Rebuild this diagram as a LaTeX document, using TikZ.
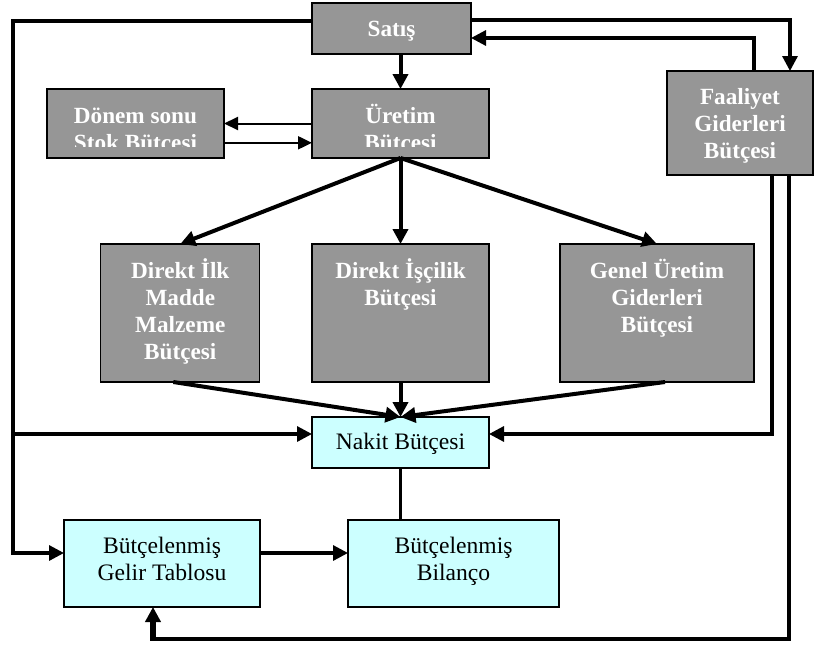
\documentclass[tikz,border=0pt]{standalone}
\usepackage{fontspec}
\setmainfont{Liberation Serif}
\usetikzlibrary{arrows.meta}

\definecolor{boxgray}{RGB}{150,150,150}
\definecolor{boxcyan}{RGB}{204,255,255}

% fixes the height of the first text line so the first baseline sits 22pt below a label's top
\newcommand\firststrut{\rule{0pt}{22pt}}

\tikzset{
  box/.style={draw=black, line width=1.3pt, inner sep=0pt, outer sep=0pt},
  graybox/.style={box, fill=boxgray},
  cyanbox/.style={box, fill=boxcyan},
  labeltext/.style={anchor=north, inner sep=0pt, outer sep=0pt, align=center},
  boldtext/.style={labeltext, text=white, font=\fontsize{23.2}{27}\selectfont\bfseries},
  plaintext/.style={labeltext, text=black, font=\fontsize{23.6}{27}\selectfont},
  bigtip/.style={-{Triangle[length=15pt,width=15pt]}},
  smalltip/.style={-{Triangle[length=14pt,width=13pt]}},
  thinline/.style={line width=2pt},
  midline/.style={line width=3.2pt},
  thickline/.style={line width=4pt},
}

\begin{document}
\begin{tikzpicture}[x=1pt, y=-1pt, line join=miter]
\useasboundingbox (0,0) rectangle (815,646);

% ---- boxes ----
\node[graybox, minimum width=159pt, minimum height=51pt]  (satis)    at (391.5,28.5) {};
\node[graybox, minimum width=177pt, minimum height=69pt]  (uretim)   at (400.5,123.5) {};
\node[graybox, minimum width=177pt, minimum height=69pt]  (donem)    at (135.5,123.5) {};
\node[graybox, minimum width=146pt, minimum height=104pt] (faaliyet) at (740,123) {};
\node[graybox, minimum width=159pt, minimum height=138pt] (dilk)     at (180.3,313) {};
\node[graybox, minimum width=177pt, minimum height=138pt] (iscilik)  at (400.5,313) {};
\node[graybox, minimum width=194pt, minimum height=138pt] (genel)    at (657,313) {};
\node[cyanbox, minimum width=177pt, minimum height=51pt]  (nakit)    at (400.5,442.5) {};
\node[cyanbox, minimum width=196pt, minimum height=87pt]  (gelir)    at (162,563.5) {};
\node[cyanbox, minimum width=211pt, minimum height=87pt]  (bilanco)  at (453.5,563.5) {};

% ---- box texts ----
\node[boldtext] (satis-t)    at (391.5,14)  {\firststrut Satış};
\node[boldtext] (faaliyet-t) at (740,82)    {\firststrut Faaliyet\\Giderleri\\Bütçesi};
\node[boldtext] (dilk-t)     at (180.3,256) {\firststrut Direkt İlk\\Madde\\Malzeme\\Bütçesi};
\node[boldtext] (iscilik-t)  at (400.5,256) {\firststrut Direkt İşçilik\\Bütçesi};
\node[boldtext] (genel-t)    at (657,256)   {\firststrut Genel Üretim\\Giderleri\\Bütçesi};
\node[plaintext] (nakit-t)   at (400.5,427) {\firststrut Nakit Bütçesi};
\node[plaintext] (gelir-t)   at (162,531)   {\firststrut Bütçelenmiş\\Gelir Tablosu};
\node[plaintext] (bilanco-t) at (453.5,531) {\firststrut Bütçelenmiş\\Bilanço};

% the second text line of these two boxes is cut off above the box bottom
\begin{scope}
  \clip (donem.north west) rectangle (uretim.east |- 0,146);
  \node[boldtext] (donem-t)  at (135.5,101) {\firststrut Dönem sonu\\Stok Bütçesi};
  \node[boldtext] (uretim-t) at (400.5,101) {\firststrut Üretim\\Bütçesi};
\end{scope}

% ---- corner points of the routed connectors ----
\coordinate (L1) at (13,21);
\coordinate (L2) at (13,553);
\coordinate (L3) at (13,434);
\coordinate (R1) at (790,20);
\coordinate (R2) at (754,38);
\coordinate (F1) at (772,434);
\coordinate (F2) at (789,639);
\coordinate (F3) at (153,639);

% ---- connectors ----
\draw[thickline, bigtip] (uretim.north |- satis.south) -- (uretim.north);

\draw[thinline, smalltip] (uretim.west) -- (donem.east);
\draw[thinline, smalltip] ([yshift=-19.3pt]donem.east) -- ([yshift=-19.3pt]uretim.west);

\draw[thickline, bigtip] (uretim.south) -- (dilk.north);
\draw[thickline, bigtip] (uretim.south) -- (iscilik.north);
\draw[thickline, bigtip] (uretim.south) -- (genel.north);

\draw[thickline, bigtip] ([xshift=-7pt]dilk.south) -- (nakit.north);
\draw[thickline, bigtip] (iscilik.south) -- (nakit.north);
\draw[thickline, bigtip] ([xshift=8pt]genel.south) -- (nakit.north);

\draw[midline, bigtip] (satis.west |- L1) -- (L1) -- (L2) -- (gelir.west |- L2);
\draw[midline, bigtip] (L3) -- (nakit.west |- L3);

\draw[midline, bigtip] (satis.east |- R1) -- (R1) -- (R1 |- faaliyet.north);
\draw[midline, bigtip] (R2 |- faaliyet.north) -- (R2) -- (satis.east |- R2);

\draw[midline, bigtip] (F1 |- faaliyet.south) -- (F1) -- (nakit.east |- F1);
\draw[midline] (F2 |- faaliyet.south) -- (F2) -- (F3);
\draw[line width=5.5pt, bigtip] ([yshift=-1.5pt]F3) -- (F3 |- gelir.south);

\draw[midline] (nakit.south) -- (nakit.south |- bilanco.north);
\draw[midline, bigtip] ([yshift=10.5pt]gelir.east) -- ([yshift=10.5pt]bilanco.west);
\end{tikzpicture}
\end{document}
